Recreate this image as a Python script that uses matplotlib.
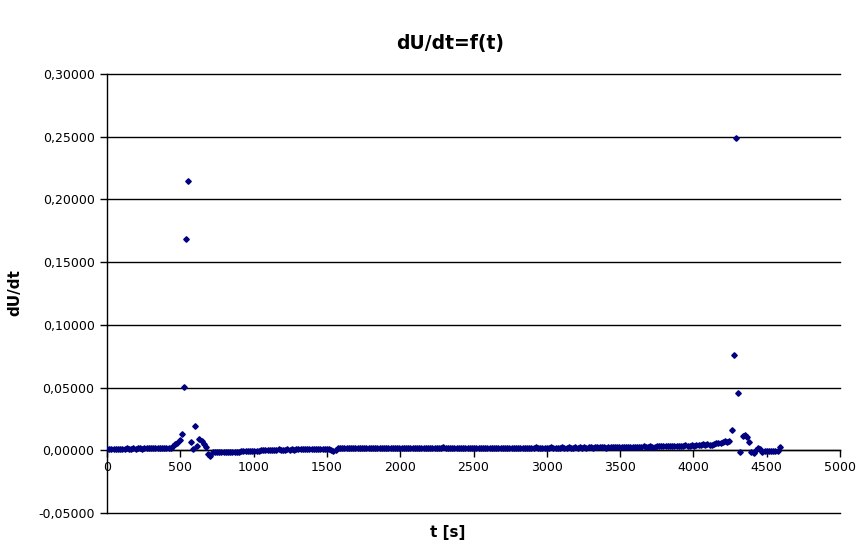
import numpy as np
import matplotlib
matplotlib.use("Agg")
import matplotlib.pyplot as plt
from matplotlib.ticker import FuncFormatter

# sampling times (s), every 15 s
t = np.arange(0, 4591, 15)

# dU/dt values
dudt = [
    0.0012, 0.0013, 0.0011, 0.0014, 0.0012, 0.0013, 0.0014, 0.0012, 0.0013, 0.0015,
    0.0014, 0.0013, 0.0015, 0.0014, 0.0016, 0.0015, 0.0014, 0.0016, 0.0015, 0.0016,
    0.0017, 0.0015, 0.0016, 0.0018, 0.0017, 0.0016, 0.0018, 0.0017, 0.0019, 0.0022,
    0.0037, 0.0050, 0.0062, 0.0080, 0.0128, 0.0506, 0.1686, 0.2148, 0.0065, 0.0009,
    0.0194, 0.0035, 0.0091, 0.0077, 0.0051, 0.0030, -0.0029, -0.0045, -0.0015, -0.0016,
    -0.0015, -0.0016, -0.0014, -0.0015, -0.0013, -0.0014, -0.0012, -0.0013, -0.0011, -0.0010,
    -0.0011, -0.0008, -0.0009, -0.0007, -0.0006, -0.0004, -0.0005, -0.0003, -0.0002, -0.0003,
    -0.0001, 0.0000, 0.0001, 0.0000, 0.0002, 0.0001, 0.0003, 0.0002, 0.0009, 0.0004,
    0.0006, 0.0005, 0.0007, 0.0004, 0.0008, 0.0006, 0.0007, 0.0009, 0.0008, 0.0010,
    0.0009, 0.0011, 0.0010, 0.0012, 0.0011, 0.0010, 0.0012, 0.0013, 0.0011, 0.0012,
    0.0013, 0.0012, 0.0005, -0.0008, 0.0004, 0.0016, 0.0017, 0.0016, 0.0018, 0.0017,
    0.0018, 0.0017, 0.0016, 0.0018, 0.0017, 0.0019, 0.0018, 0.0017, 0.0019, 0.0018,
    0.0017, 0.0019, 0.0018, 0.0020, 0.0018, 0.0019, 0.0017, 0.0019, 0.0020, 0.0018,
    0.0019, 0.0018, 0.0020, 0.0019, 0.0017, 0.0019, 0.0020, 0.0018, 0.0019, 0.0021,
    0.0019, 0.0020, 0.0018, 0.0019, 0.0021, 0.0019, 0.0020, 0.0018, 0.0020, 0.0019,
    0.0021, 0.0020, 0.0019, 0.0023, 0.0020, 0.0021, 0.0019, 0.0020, 0.0022, 0.0020,
    0.0021, 0.0019, 0.0020, 0.0022, 0.0021, 0.0020, 0.0019, 0.0021, 0.0020, 0.0022,
    0.0020, 0.0021, 0.0019, 0.0021, 0.0020, 0.0022, 0.0020, 0.0021, 0.0019, 0.0020,
    0.0022, 0.0021, 0.0020, 0.0021, 0.0019, 0.0022, 0.0021, 0.0020, 0.0022, 0.0021,
    0.0020, 0.0021, 0.0022, 0.0020, 0.0021, 0.0023, 0.0021, 0.0020, 0.0022, 0.0021,
    0.0022, 0.0021, 0.0023, 0.0021, 0.0022, 0.0020, 0.0022, 0.0023, 0.0021, 0.0022,
    0.0023, 0.0022, 0.0021, 0.0023, 0.0022, 0.0024, 0.0022, 0.0023, 0.0021, 0.0024,
    0.0023, 0.0022, 0.0024, 0.0023, 0.0025, 0.0023, 0.0024, 0.0022, 0.0025, 0.0024,
    0.0025, 0.0024, 0.0026, 0.0025, 0.0027, 0.0026, 0.0028, 0.0025, 0.0027, 0.0029,
    0.0027, 0.0028, 0.0030, 0.0028, 0.0031, 0.0029, 0.0030, 0.0032, 0.0030, 0.0029,
    0.0031, 0.0033, 0.0032, 0.0034, 0.0032, 0.0035, 0.0033, 0.0036, 0.0034, 0.0037,
    0.0035, 0.0038, 0.0036, 0.0039, 0.0037, 0.0036, 0.0040, 0.0038, 0.0041, 0.0039,
    0.0043, 0.0047, 0.0045, 0.0048, 0.0046, 0.0044, 0.0050, 0.0055, 0.0060, 0.0058,
    0.0066, 0.0072, 0.0070, 0.0078, 0.0163, 0.0757, 0.2490, 0.0455, -0.0010, 0.0117,
    0.0120, 0.0104, 0.0065, -0.0010, -0.0023, 0.0003, 0.0017, 0.0012, -0.0010, -0.0005,
    -0.0004, -0.0006, -0.0005, -0.0004, -0.0006, -0.0003, 0.0025,
]

x_ticks = [0, 500, 1000, 1500, 2000, 2500, 3000, 3500, 4000, 4500, 5000]
y_ticks = [-0.05, 0.0, 0.05, 0.10, 0.15, 0.20, 0.25, 0.30]

fig = plt.figure(figsize=(8.66, 5.48), dpi=100)
ax = fig.add_axes([107/866, 1-513/548, (840-107)/866, (513-74)/548])

ax.plot(t, dudt, linestyle='none', marker='D', markersize=2.8,
        color='#000080', markeredgecolor='#000080', zorder=3)

ax.set_xlim(0, 5000)
ax.set_ylim(-0.05, 0.30)
ax.set_xticks(x_ticks)
ax.set_yticks(y_ticks)

fmt = FuncFormatter(lambda v, p: ('%.5f' % v).replace('.', ','))
ax.yaxis.set_major_formatter(fmt)

ax.yaxis.grid(True, color='black', linewidth=1)
ax.set_axisbelow(True)
for gl in ax.get_ygridlines():
    gl.set_clip_on(False)

for s in ['top', 'right']:
    ax.spines[s].set_visible(False)
ax.spines['bottom'].set_position(('data', 0))
ax.spines['bottom'].set_linewidth(1)
ax.spines['left'].set_linewidth(1)

ax.tick_params(axis='both', direction='out', length=5, width=1,
               labelsize=9, colors='black')
ax.tick_params(axis='y', pad=4)
ax.tick_params(axis='x', pad=3)

fig.text(450/866, 1-44/548, 'dU/dt=f(t)', ha='center', va='center',
         fontsize=13.5, fontweight='bold')
fig.text(448/866, 1-533/548, 't [s]', ha='center', va='center',
         fontsize=11, fontweight='bold')
fig.text(15/866, 1-293/548, 'dU/dt', ha='center', va='center',
         fontsize=11, fontweight='bold', rotation=90)

fig.savefig('out.png', dpi=100)
